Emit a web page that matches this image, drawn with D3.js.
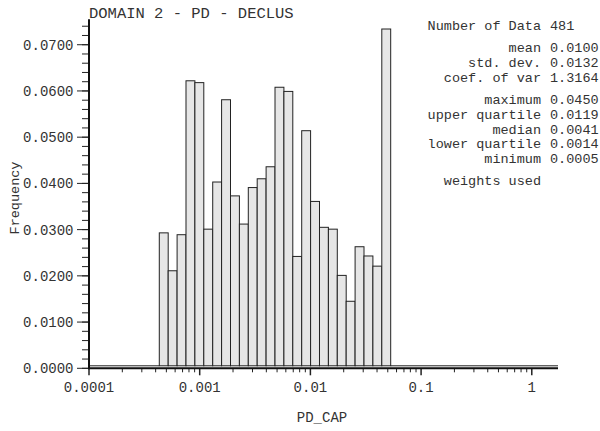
<!DOCTYPE html>
<html>
<head>
<meta charset="utf-8">
<script src="https://cdn.jsdelivr.net/npm/d3@7"></script>
<style>
  html, body { margin: 0; padding: 0; background: #fff; }
  svg text { font-family: "Liberation Mono", "Courier New", monospace; fill: #333; }
</style>
</head>
<body>
<svg id="chart" width="600" height="431"></svg>
<script>
// ---- data ----
const title = "DOMAIN 2 - PD - DECLUS";
const xLabel = "PD_CAP";
const yLabel = "Frequency";
// histogram class edges (log spaced)
const binEdges = [0.0004315, 0.0005193, 0.0006249, 0.0007520, 0.0009050, 0.001089,
  0.001311, 0.001577, 0.001898, 0.002284, 0.002748, 0.003307, 0.003980, 0.004790,
  0.005764, 0.006934, 0.008346, 0.010042, 0.012084, 0.014543, 0.017498, 0.021056,
  0.025341, 0.030495, 0.036699, 0.044157, 0.053138];
const frequencies = [0.0293, 0.0211, 0.0289, 0.0622, 0.0618, 0.0301, 0.0403, 0.0581,
  0.0373, 0.0312, 0.0391, 0.0410, 0.0436, 0.0608, 0.0599, 0.0242, 0.0514, 0.0361,
  0.0305, 0.0301, 0.0201, 0.0145, 0.0263, 0.0243, 0.0221, 0.0734];
const xTickValues = [0.0001, 0.001, 0.01, 0.1, 1];
const xTickLabels = ["0.0001", "0.001", "0.01", "0.1", "1"];
const yTickValues = [0, 0.01, 0.02, 0.03, 0.04, 0.05, 0.06, 0.07];
const yTickLabels = ["0.0000", "0.0100", "0.0200", "0.0300", "0.0400", "0.0500", "0.0600", "0.0700"];
const statLabels = ["Number of Data", "mean", "std. dev.", "coef. of var",
  "maximum", "upper quartile", "median", "lower quartile", "minimum"];
const statValues = ["481", "0.0100", "0.0132", "1.3164",
  "0.0450", "0.0119", "0.0041", "0.0014", "0.0005"];
const footNote = "weights used";
const xDomain = [0.0001, 1.725];
const yDomain = [0, 0.0755];

(function () {
// ---- layout ----
const svg = d3.select("#chart");
const mLeft = 89, mRight = 558, mTop = 19.3, mBottom = 368.3;
const x = d3.scaleLog().domain(xDomain).range([mLeft, mRight]);
const y = d3.scaleLinear().domain(yDomain).range([mBottom, mTop]);
const barBase = y(0) - 2.5;

const bins = frequencies.map((f, i) => ({ x0: binEdges[i], x1: binEdges[i + 1], f }));

// zero-frequency classes drawn as flat outline
const g = svg.append("g");
g.append("line")
  .attr("x1", x(xDomain[0])).attr("x2", x(binEdges[0]))
  .attr("y1", barBase).attr("y2", barBase)
  .attr("stroke", "#222").attr("stroke-width", 1);
g.append("line")
  .attr("x1", x(binEdges[binEdges.length - 1])).attr("x2", x(xDomain[1]))
  .attr("y1", barBase).attr("y2", barBase)
  .attr("stroke", "#222").attr("stroke-width", 1);

g.selectAll("rect.bar").data(bins).join("rect")
  .attr("class", "bar")
  .attr("x", d => x(d.x0))
  .attr("width", d => x(d.x1) - x(d.x0))
  .attr("y", d => y(d.f))
  .attr("height", d => barBase - y(d.f))
  .attr("fill", "#e6e6e6")
  .attr("stroke", "#222")
  .attr("stroke-width", 1);

// ---- y axis ----
const yMinor = d3.range(0, 0.0741, 0.002);
svg.append("g").selectAll("line").data(yMinor).join("line")
  .attr("x1", mLeft - 7).attr("x2", mLeft)
  .attr("y1", d => y(d)).attr("y2", d => y(d))
  .attr("stroke", "#222").attr("stroke-width", 1);
svg.append("g").selectAll("line").data(yTickValues).join("line")
  .attr("x1", mLeft - 12).attr("x2", mLeft)
  .attr("y1", d => y(d)).attr("y2", d => y(d))
  .attr("stroke", "#222").attr("stroke-width", 1);
svg.append("g").selectAll("text").data(yTickValues).join("text")
  .attr("x", mLeft - 15.5)
  .attr("y", d => y(d))
  .attr("dy", "0.36em")
  .attr("text-anchor", "end")
  .style("font-size", "14px")
  .text((d, i) => yTickLabels[i]);
svg.append("line")
  .attr("x1", mLeft).attr("x2", mLeft).attr("y1", mTop).attr("y2", mBottom + 1)
  .attr("stroke", "#111").attr("stroke-width", 2);

// ---- x axis ----
const xMinor = [];
for (let e = -4; e <= 0; e++) {
  for (let m = 2; m <= 9; m++) {
    const v = m * Math.pow(10, e);
    if (v <= xDomain[1]) xMinor.push(v);
  }
}
svg.append("g").selectAll("line").data(xMinor).join("line")
  .attr("x1", d => x(d)).attr("x2", d => x(d))
  .attr("y1", mBottom).attr("y2", mBottom + 4)
  .attr("stroke", "#222").attr("stroke-width", 1);
svg.append("g").selectAll("line").data(xTickValues).join("line")
  .attr("x1", d => x(d)).attr("x2", d => x(d))
  .attr("y1", mBottom).attr("y2", mBottom + 7)
  .attr("stroke", "#222").attr("stroke-width", 1.5);
svg.append("g").selectAll("text").data(xTickValues).join("text")
  .attr("x", d => x(d))
  .attr("y", 391.5)
  .attr("text-anchor", "middle")
  .style("font-size", "14px")
  .text((d, i) => xTickLabels[i]);
svg.append("line")
  .attr("x1", mLeft - 1).attr("x2", mRight).attr("y1", mBottom).attr("y2", mBottom)
  .attr("stroke", "#111").attr("stroke-width", 2);

// ---- labels ----
svg.append("text")
  .attr("x", mLeft).attr("y", 17.5)
  .style("font-size", "15.5px")
  .text(title);
svg.append("text")
  .attr("x", 322).attr("y", 422)
  .attr("text-anchor", "middle")
  .style("font-size", "14px")
  .text(xLabel);
svg.append("text")
  .attr("transform", "translate(18.5,198) rotate(-90)")
  .attr("text-anchor", "middle")
  .style("font-size", "13.5px")
  .text(yLabel);

// ---- statistics ----
const statBaselines = [30, 52.3, 67, 81.8, 104.3, 119, 133.6, 148.3, 163.3];
const sg = svg.append("g").style("font-size", "13.5px");
sg.selectAll("text.lab").data(statLabels).join("text")
  .attr("class", "lab")
  .attr("x", 541).attr("y", (d, i) => statBaselines[i])
  .attr("text-anchor", "end")
  .text(d => d);
sg.selectAll("text.val").data(statValues).join("text")
  .attr("class", "val")
  .attr("x", 550).attr("y", (d, i) => statBaselines[i])
  .text(d => d);
sg.append("text")
  .attr("x", 541).attr("y", 185)
  .attr("text-anchor", "end")
  .text(footNote);
})();
</script>
</body>
</html>
